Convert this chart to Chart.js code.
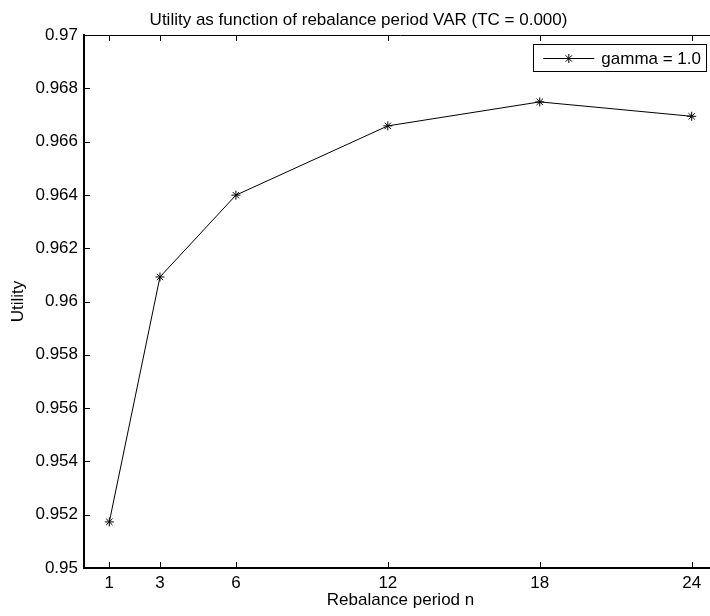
<!DOCTYPE html>
<html>
<head>
<meta charset="utf-8">
<script src="https://cdn.jsdelivr.net/npm/chart.js@4.4.1/dist/chart.umd.min.js"></script>
<style>
html, body { margin: 0; padding: 0; overflow: hidden; background: #fff; }
#marco { width: 730px; height: 616px; }
</style>
</head>
<body>
<div id="marco"><canvas id="grafico"></canvas></div>
<script>
/* Datos */
var periodos = [1, 3, 6, 12, 18, 24];
var utilidad = [0.95173, 0.96092, 0.96399, 0.96659, 0.96749, 0.96695];
var ticksX = [1, 3, 6, 12, 18, 24];
var nombreSerie = 'gamma = 1.0';

var fuente = '"Liberation Sans", Arial, Helvetica, sans-serif';
Chart.defaults.font.family = fuente;
Chart.defaults.font.size = 17;
Chart.defaults.color = '#000';

/* Caja superior, marcas hacia dentro y leyenda estilo MATLAB */
var cajaMatlab = {
    id: 'cajaMatlab',
    afterDraw: function (chart) {
        var ctx = chart.ctx;
        var ca = chart.chartArea;
        var x = chart.scales.x;
        var y = chart.scales.y;
        ctx.save();
        ctx.strokeStyle = '#000';
        ctx.lineWidth = 1;
        ctx.beginPath();
        ctx.moveTo(ca.left, ca.top + 0.5);
        ctx.lineTo(ca.right, ca.top + 0.5);
        ctx.moveTo(ca.right - 0.5, ca.top);
        ctx.lineTo(ca.right - 0.5, ca.bottom);
        x.ticks.forEach(function (t) {
            var px = Math.round(x.getPixelForValue(t.value)) + 0.5;
            ctx.moveTo(px, ca.bottom);
            ctx.lineTo(px, ca.bottom - 6);
            ctx.moveTo(px, ca.top);
            ctx.lineTo(px, ca.top + 6);
        });
        y.ticks.forEach(function (t) {
            var py = Math.round(y.getPixelForValue(t.value)) + 0.5;
            ctx.moveTo(ca.left, py);
            ctx.lineTo(ca.left + 6, py);
            ctx.moveTo(ca.right, py);
            ctx.lineTo(ca.right - 6, py);
        });
        ctx.stroke();

        // leyenda
        ctx.font = '17px ' + fuente;
        var ancho = ctx.measureText(nombreSerie).width;
        var der = ca.right - 11;
        var izq = der - (68 + ancho + 5);
        var arriba = ca.top + 9;
        var alto = 27;
        ctx.fillStyle = '#fff';
        ctx.fillRect(izq, arriba, der - izq, alto);
        ctx.strokeRect(Math.round(izq) + 0.5, arriba + 0.5, Math.round(der - izq), alto);
        var yc = arriba + 14;
        ctx.beginPath();
        ctx.moveTo(izq + 10, yc + 0.5);
        ctx.lineTo(izq + 61, yc + 0.5);
        ctx.stroke();
        Chart.helpers.drawPoint(ctx, { pointStyle: 'star', radius: 4.5, rotation: 0, borderWidth: 1 }, izq + 35.5, yc + 0.5);
        ctx.fillStyle = '#000';
        ctx.textBaseline = 'middle';
        ctx.textAlign = 'left';
        ctx.fillText(nombreSerie, izq + 68, yc + 1);
        ctx.restore();
    }
};

var marco = document.getElementById('grafico').getContext('2d');

var grafico = new Chart(marco, {
    type: 'line',
    data: {
        datasets: [{
            label: nombreSerie,
            data: periodos.map(function (p, i) { return { x: p, y: utilidad[i] }; }),
            borderColor: '#000',
            borderWidth: 1,
            pointStyle: 'star',
            pointRadius: 4.5,
            pointBorderColor: '#000',
            pointBorderWidth: 1,
            fill: false,
            tension: 0
        }]
    },
    options: {
        responsive: true,
        maintainAspectRatio: false,
        animation: false,
        layout: { padding: { left: 0, right: 13, top: 0, bottom: 0 } },
        plugins: {
            legend: { display: false },
            tooltip: { enabled: false },
            title: {
                display: true,
                text: 'Utility as function of rebalance period VAR (TC = 0.000)',
                color: '#000',
                font: { size: 17, weight: 'normal' },
                padding: { top: 10, bottom: 4.6 }
            }
        },
        scales: {
            x: {
                type: 'linear',
                min: 0,
                max: 25,
                afterBuildTicks: function (s) {
                    s.ticks = ticksX.map(function (v) { return { value: v }; });
                },
                afterFit: function (s) { s.height = 48; },
                grid: { display: false, drawTicks: false },
                border: { display: true, color: '#000', width: 2 },
                ticks: { color: '#000', padding: 5, maxRotation: 0, autoSkip: false },
                title: {
                    display: true,
                    text: 'Rebalance period n',
                    color: '#000',
                    padding: { top: 0, bottom: 5 }
                }
            },
            y: {
                min: 0.95,
                max: 0.97,
                afterFit: function (s) { s.width = 84; },
                grid: { display: false, drawTicks: false },
                border: { display: true, color: '#000', width: 2 },
                ticks: {
                    stepSize: 0.002,
                    color: '#000',
                    padding: 6,
                    callback: function (v) { return parseFloat(v.toFixed(3)).toString(); }
                },
                title: {
                    display: true,
                    text: 'Utility',
                    color: '#000',
                    padding: { top: 8, bottom: 0 }
                }
            }
        }
    },
    plugins: [cajaMatlab]
});
</script>
</body>
</html>
